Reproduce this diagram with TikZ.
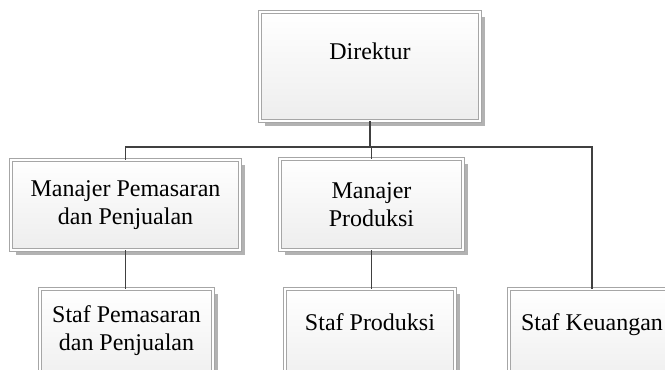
\documentclass[tikz,border=0pt]{standalone}
\usepackage{fontspec}
\setmainfont{Liberation Serif}
\usetikzlibrary{shadows,positioning}

\begin{document}
\begin{tikzpicture}[
  x=0.75pt, y=-0.75pt,
  box/.style={rectangle, draw=gray!70, double=white, double distance=1.4pt, line width=0.5pt,
    top color=white, bottom color=gray!14, inner sep=0pt, text centered, align=center,
    font=\fontsize{18}{21}\selectfont,
    drop shadow={shadow xshift=3.6pt, shadow yshift=-3.6pt, fill=gray!60, opacity=1}},
  conn/.style={draw=black!75, line width=1.1pt}
]
  \useasboundingbox (0,0) rectangle (665,369);
  \node[box, minimum width=165pt, minimum height=81.75pt, text height=12pt, text depth=22pt] (dir) at (370,66.5) {Direktur};
  \node[box, minimum width=171.75pt, minimum height=67.5pt] (mpemasaran) at (125.5,205) {Manajer Pemasaran\\dan Penjualan};
  \node[box, minimum width=137.25pt, minimum height=68.25pt] (mproduksi) at (371.5,204.5) {Manajer\\Produksi};
  \node[box, minimum width=129.75pt, minimum height=75pt, text depth=17pt] (spemasaran) at (126.5,339) {Staf Pemasaran\\dan Penjualan};
  \node[box, minimum width=127.5pt, minimum height=75pt, text height=12pt, text depth=24.75pt] (sproduksi) at (370,339) {Staf Produksi};
  \node[box, minimum width=124.5pt, minimum height=75pt, text height=12pt, text depth=24.75pt] (skeuangan) at (592,339) {Staf Keuangan};

  \coordinate (bus) at (370,147);
  \draw[conn] (dir.south) -- (bus);
  \draw[conn] (mpemasaran.north) |- (bus);
  \draw[conn] (mproduksi.north) -- (mproduksi.north |- bus);
  \draw[conn] (skeuangan.north) |- (bus);
  \draw[conn] (mpemasaran.south) -- (mpemasaran.south |- spemasaran.north);
  \draw[conn] (mproduksi.south) -- (mproduksi.south |- sproduksi.north);
\end{tikzpicture}
\end{document}
